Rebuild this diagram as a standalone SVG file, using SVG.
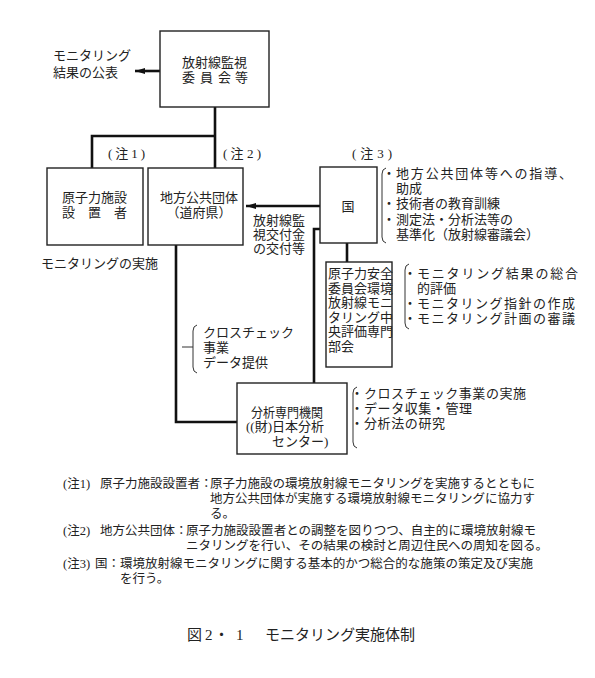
<svg xmlns="http://www.w3.org/2000/svg" width="595" height="678" viewBox="0 0 595 678">
<defs>
<style>
text{font-family:"Liberation Serif","Noto Sans CJK JP",serif;fill:#222;font-size:13px}
.s{font-size:12.5px}
.box{fill:#fff;stroke:#222;stroke-width:1.4}
.con{fill:none;stroke:#111;stroke-width:2.6}
.br{fill:none;stroke:#333;stroke-width:1}
.cap{font-size:15px}
</style>
<marker id="ah" viewBox="0 0 10 6" refX="10" refY="3" markerWidth="10" markerHeight="6" markerUnits="userSpaceOnUse" orient="auto">
<path d="M0,0 L10,3 L0,6 Z" fill="#111"/>
</marker>
</defs>
<rect width="595" height="678" fill="#fff"/>

<g id="connectors">
<path class="con" d="M215,107 V168"/>
<path class="con" d="M92,168 V136 H215"/>
<path class="con" d="M160,71 H135" marker-end="url(#ah)"/>
<path class="con" d="M320,206 H246" marker-end="url(#ah)"/>
<path class="con" d="M320,229 H314 V383"/>
<path class="con" d="M347,243 V262"/>
<path class="con" d="M176,245 V422 H237"/>
</g>

<g id="n-iinkai">
<rect class="box" x="160" y="31" width="109" height="76"/>
<text><tspan x="182" y="67">放射線監視</tspan><tspan x="182 200 218 235" y="82">委員会等</tspan></text>
</g>
<text id="t-koho"><tspan x="53" y="60">モニタリング</tspan><tspan x="53" y="77">結果の公表</tspan></text>

<g id="n-setchisha">
<rect class="box" x="47" y="168" width="96" height="77"/>
<text><tspan x="62" y="202">原子力施設</tspan><tspan x="62 88 114" y="217">設置者</tspan></text>
</g>
<g id="n-chiho">
<rect class="box" x="148" y="168" width="95" height="77"/>
<text text-anchor="middle"><tspan x="199" y="202">地方公共団体</tspan><tspan x="199" y="217">（道府県）</tspan></text>
</g>
<text x="108" y="158" textLength="37" lengthAdjust="spacing">(注1)</text>
<text x="223" y="158" textLength="38" lengthAdjust="spacing">(注2)</text>
<text x="41" y="268">モニタリングの実施</text>
<text id="t-kofu"><tspan x="253" y="225">放射線監</tspan><tspan x="253" y="239">視交付金</tspan><tspan x="253" y="253">の交付等</tspan></text>

<g id="n-kuni">
<rect class="box" x="320" y="167" width="57" height="76"/>
<text x="348" y="211" text-anchor="middle">国</text>
</g>
<text x="352" y="158" textLength="40" lengthAdjust="spacing">(注3)</text>
<g id="b-kuni">
<path class="br" d="M386,168 Q382,169 382,174 V237 Q382,242 386,243"/>
<text><tspan x="382.5" y="178">・</tspan><tspan x="396" y="178" textLength="176" lengthAdjust="spacing">地方公共団体等への指導、</tspan><tspan x="396" y="193">助成</tspan><tspan x="382.5" y="208">・</tspan><tspan x="396" y="208">技術者の教育訓練</tspan><tspan x="382.5" y="224">・</tspan><tspan x="396" y="224">測定法・分析法等の</tspan><tspan x="396" y="239">基準化（放射線審議会）</tspan></text>
</g>

<g id="n-anzen">
<rect class="box" x="326" y="262" width="66" height="105"/>
<text><tspan x="328" y="278">原子力安全</tspan><tspan x="328" y="292.5">委員会環境</tspan><tspan x="328" y="307">放射線モニ</tspan><tspan x="328" y="321.5">タリング中</tspan><tspan x="328" y="336">央評価専門</tspan><tspan x="328" y="350.5">部会</tspan></text>
</g>
<g id="b-anzen">
<path class="br" d="M409,264 Q405,265 405,270 V323 Q405,328 409,329"/>
<text><tspan x="403.5" y="278">・</tspan><tspan x="417" y="278" textLength="161" lengthAdjust="spacing">モニタリング結果の総合</tspan><tspan x="417" y="293">的評価</tspan><tspan x="403.5" y="308">・</tspan><tspan x="417" y="308" textLength="158" lengthAdjust="spacing">モニタリング指針の作成</tspan><tspan x="403.5" y="323">・</tspan><tspan x="417" y="323" textLength="158" lengthAdjust="spacing">モニタリング計画の審議</tspan></text>
</g>

<g id="b-cross">
<path class="br" d="M197,325 Q193,326 193,331 V367 Q193,372 197,373"/>
<path class="br" d="M182,347 H193"/>
<text><tspan x="203" y="337">クロスチェック</tspan><tspan x="203" y="352">事業</tspan><tspan x="203" y="367">データ提供</tspan></text>
</g>

<g id="n-bunseki">
<rect class="box" x="237" y="383" width="110" height="71"/>
<text><tspan x="251" y="417" textLength="72" lengthAdjust="spacingAndGlyphs">分析専門機関</tspan><tspan x="246" y="431">((財)日本分析</tspan><tspan x="272" y="445.5">センター)</tspan></text>
</g>
<g id="b-bunseki">
<path class="br" d="M357,387 Q353,388 353,393 V442 Q353,447 357,448"/>
<text><tspan x="350.5" y="398">・</tspan><tspan x="364" y="398" textLength="162" lengthAdjust="spacing">クロスチェック事業の実施</tspan><tspan x="350.5" y="413">・</tspan><tspan x="364" y="413" textLength="108" lengthAdjust="spacing">データ収集・管理</tspan><tspan x="350.5" y="428">・</tspan><tspan x="364" y="428" textLength="81" lengthAdjust="spacing">分析法の研究</tspan></text>
</g>

<text id="notes" class="s"><tspan x="63" y="488">(注1)</tspan><tspan x="100" y="488">原子力施設設置者：</tspan><tspan x="210" y="488" textLength="325" lengthAdjust="spacing">原子力施設の環境放射線モニタリングを実施するとともに</tspan><tspan x="210" y="503" textLength="325" lengthAdjust="spacing">地方公共団体が実施する環境放射線モニタリングに協力す</tspan><tspan x="210" y="518">る。</tspan><tspan x="63" y="535">(注2)</tspan><tspan x="100" y="535">地方公共団体</tspan><tspan x="175" y="535">：</tspan><tspan x="186" y="535" textLength="350" lengthAdjust="spacing">原子力施設設置者との調整を図りつつ、自主的に環境放射線モ</tspan><tspan x="186" y="550" textLength="362" lengthAdjust="spacing">ニタリングを行い、その結果の検討と周辺住民への周知を図る。</tspan><tspan x="63" y="568">(注3)</tspan><tspan x="95" y="568">国：</tspan><tspan x="120" y="568" textLength="413" lengthAdjust="spacing">環境放射線モニタリングに関する基本的かつ総合的な施策の策定及び実施</tspan><tspan x="120" y="583">を行う。</tspan></text>

<text class="cap"><tspan x="187 205 214 236" y="640">図2・1</tspan><tspan x="265" y="640">モニタリング実施体制</tspan></text>
</svg>
